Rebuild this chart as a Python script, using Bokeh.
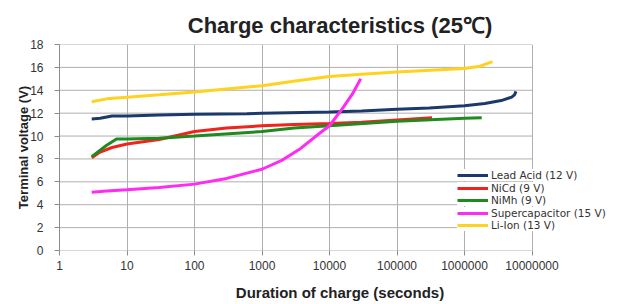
from bokeh.plotting import figure
from bokeh.models import FixedTicker, PrintfTickFormatter, Legend, LegendItem
from bokeh.embed import file_html
from bokeh.resources import INLINE

# ---- data ----
lead_x = [3, 4, 6, 10, 30, 100, 600, 1000, 10000, 30000, 100000, 300000, 1000000, 2000000, 3500000, 5000000, 5500000, 5800000]
lead_y = [11.5, 11.55, 11.75, 11.75, 11.85, 11.9, 11.95, 12.0, 12.1, 12.2, 12.35, 12.45, 12.65, 12.85, 13.1, 13.4, 13.6, 13.9]

nicd_x = [3, 4, 6, 10, 30, 100, 300, 1000, 3000, 10000, 30000, 100000, 330000]
nicd_y = [8.1, 8.6, 9.0, 9.3, 9.7, 10.4, 10.7, 10.9, 11.0, 11.1, 11.2, 11.4, 11.6]

nimh_x = [3, 5, 7, 10, 30, 100, 1000, 3000, 10000, 100000, 1000000, 1800000]
nimh_y = [8.2, 9.2, 9.75, 9.75, 9.8, 10.0, 10.4, 10.7, 10.9, 11.3, 11.55, 11.6]

super_x = [3, 5, 10, 30, 100, 300, 1000, 2000, 3700, 7000, 10000, 16000, 22000, 29000]
super_y = [5.1, 5.2, 5.3, 5.5, 5.8, 6.3, 7.1, 7.9, 8.9, 10.2, 10.9, 12.5, 13.7, 15.0]

liion_x = [3, 5, 10, 30, 100, 1000, 4000, 10000, 30000, 100000, 1000000, 1700000, 2600000]
liion_y = [13.0, 13.25, 13.4, 13.6, 13.85, 14.4, 14.9, 15.2, 15.4, 15.6, 15.9, 16.1, 16.5]

series = [
    ("Lead Acid (12 V)", lead_x, lead_y, "#1B3A6B"),
    ("NiCd (9 V)", nicd_x, nicd_y, "#F0241C"),
    ("NiMh (9 V)", nimh_x, nimh_y, "#1F8A1F"),
    ("Supercapacitor (15 V)", super_x, super_y, "#FF2BF5"),
    ("Li-Ion (13 V)", liion_x, liion_y, "#FFD21F"),
]

x_ticks = [1, 10, 100, 1000, 10000, 100000, 1000000, 10000000]
y_ticks = [0, 2, 4, 6, 8, 10, 12, 14, 16, 18]

FONT = "Liberation Sans"
LEGEND_FONT = "DejaVu Sans"
GRID = "#AFAFAF"
AXIS = "#8C8C8C"

# the plotting frame runs past 10^7 so that the legend (which overhangs the
# chart on the right) is not clipped; the visible chart box stops at 10^7
x_end = 10 ** 8.311

p = figure(width=620, height=303, x_axis_type="log", x_range=(1, x_end), y_range=(0, 18),
           output_backend="svg", toolbar_location=None,
           min_border_left=59, min_border_right=0, min_border_top=44, min_border_bottom=53,
           title="Charge characteristics (25℃)")

p.title.text_font = FONT
p.title.text_font_size = "22px"
p.title.text_font_style = "bold"
p.title.text_color = "#222222"
p.title.align = "center"
p.title.vertical_align = "top"
p.title.offset = -47

# horizontal grid lines, limited to the chart box (1 .. 10^7)
n = len(y_ticks)
p.segment(x0=[x_ticks[0]] * n, x1=[x_ticks[-1]] * n, y0=y_ticks, y1=y_ticks,
          line_color=GRID, line_width=1)

renderers = []
for name, xs, ys, col in series:
    r = p.line(xs, ys, line_color=col, line_width=3)
    renderers.append((name, r))

p.xaxis.ticker = FixedTicker(ticks=x_ticks, minor_ticks=[])
p.xaxis.formatter = PrintfTickFormatter(format="%d")
p.yaxis.ticker = FixedTicker(ticks=y_ticks, minor_ticks=[])

for ax in (p.xaxis, p.yaxis):
    ax.axis_line_color = AXIS
    ax.major_tick_line_color = AXIS
    ax.major_tick_out = 5
    ax.major_tick_in = 0
    ax.minor_tick_line_color = None
    ax.major_label_text_font = FONT
    ax.major_label_text_font_size = "12px"
    ax.major_label_text_color = "#333333"
    ax.axis_label_text_font = FONT
    ax.axis_label_text_font_style = "bold"
    ax.axis_label_text_color = "#222222"

p.xaxis.axis_line_color = None
p.xaxis.axis_label = "Duration of charge (seconds)"
p.xaxis.axis_label_text_font_size = "15px"
p.yaxis.axis_label = "Terminal voltage (V)"
p.yaxis.axis_label_text_font_size = "13px"
p.xaxis.major_label_standoff = 5
p.xaxis.axis_label_standoff = 11
p.yaxis.major_label_standoff = 11
p.yaxis.axis_label_standoff = -4

p.xgrid.grid_line_color = GRID
p.ygrid.grid_line_color = None
p.outline_line_color = None
p.background_fill_color = "white"
p.border_fill_color = "white"

# one legend box per entry so the rows can sit as tightly as in the original
pad = 3
row_h = 12.5
for i, (nm, r) in enumerate(renderers):
    yc = 172 + 12.5 * i             # row centre, pixels from the top of the figure
    bottom = 250 - (yc + row_h / 2) - pad   # relative to the bottom of the frame
    lg = Legend(items=[LegendItem(label=nm, renderers=[r])], location=(398, bottom))
    lg.label_text_font = LEGEND_FONT
    lg.label_text_font_size = "10.5px"
    lg.label_text_color = "#333333"
    lg.glyph_width = 31
    lg.glyph_height = 12
    lg.label_height = 12
    lg.spacing = 0
    lg.padding = pad
    lg.margin = 0
    lg.label_standoff = 3
    lg.border_line_color = None
    lg.background_fill_alpha = 1.0
    p.add_layout(lg, "center")

open("out.html", "w").write(file_html(p, INLINE))
